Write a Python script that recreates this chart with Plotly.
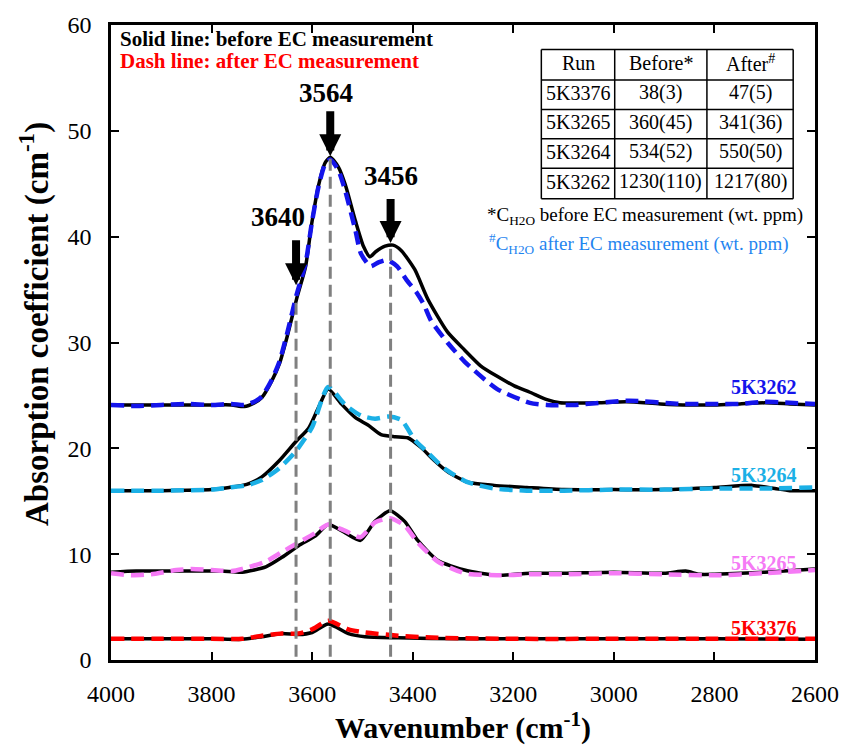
import plotly.graph_objects as go

# ---------------- data ----------------
wn_3262_before = [4000, 3900, 3800, 3760, 3735, 3715, 3700, 3680, 3665, 3650, 3631, 3613, 3601, 3587, 3574, 3564,
                  3548, 3534, 3514, 3498, 3485, 3473, 3455, 3439, 3423, 3396, 3370, 3331, 3297, 3265, 3232, 3198,
                  3167, 3133, 3107, 3040, 2975, 2908, 2850, 2800, 2750, 2700, 2650, 2600]
abs_3262_before = [24.1, 24.1, 24.1, 24.1, 23.95, 24.3, 24.8, 26.4, 28.0, 30.5, 34.1, 37.2, 41.2, 44.9, 47.0, 47.5,
                   46.6, 44.9, 41.5, 39.1, 38.1, 38.6, 39.1, 39.2, 38.7, 36.9, 34.1, 31.0, 29.3, 27.8, 26.8, 25.9,
                   25.3, 24.6, 24.3, 24.3, 24.4, 24.2, 24.1, 24.1, 24.2, 24.3, 24.2, 24.1]

wn_3262_after = [4000, 3950, 3900, 3850, 3800, 3760, 3735, 3715, 3700, 3680, 3665, 3650, 3631, 3613, 3601, 3587, 3574,
                 3564, 3548, 3534, 3514, 3503, 3484, 3467, 3451, 3431, 3412, 3392, 3378, 3364, 3331, 3297, 3232, 3167,
                 3133, 3080, 2970, 2871, 2804, 2750, 2700, 2650, 2600]
abs_3262_after = [24.1, 24.0, 24.1, 24.2, 24.1, 24.2, 24.1, 24.4, 24.9, 26.5, 28.2, 30.8, 34.5, 37.5, 41.2, 44.8, 46.9,
                  47.3, 46.3, 44.3, 40.6, 38.4, 37.2, 37.6, 37.8, 37.2, 35.9, 34.7, 33.6, 32.1, 30.0, 28.2, 25.6, 24.3,
                  24.1, 24.1, 24.5, 24.2, 24.2, 24.2, 24.4, 24.3, 24.2]

wn_3264_before = [4000, 3900, 3800, 3765, 3730, 3700, 3666, 3633, 3607, 3587, 3568, 3542, 3514, 3489, 3463, 3435, 3410,
                  3384, 3356, 3331, 3291, 3238, 3173, 3100, 3000, 2900, 2800, 2724, 2680, 2650, 2600]
abs_3264_before = [16.0, 16.0, 16.1, 16.3, 16.6, 17.3, 18.8, 20.6, 21.9, 23.9, 25.6, 24.2, 22.9, 22.2, 21.3, 21.1, 21.0,
                   20.1, 18.8, 17.8, 16.8, 16.5, 16.3, 16.1, 16.1, 16.1, 16.3, 16.5, 16.2, 16.0, 16.0]

wn_3264_after = [4000, 3900, 3800, 3765, 3730, 3700, 3666, 3633, 3600, 3568, 3534, 3503, 3475, 3449, 3423, 3396, 3370,
                 3337, 3291, 3238, 3173, 3100, 3000, 2900, 2800, 2700, 2600]
abs_3264_after = [16.0, 16.0, 16.1, 16.3, 16.5, 17.0, 18.1, 19.7, 22.0, 25.8, 24.1, 23.1, 22.8, 23.0, 22.7, 20.8, 19.6,
                  18.1, 16.8, 16.2, 16.0, 16.0, 16.1, 16.1, 16.2, 16.2, 16.3]

wn_3265_before = [4000, 3950, 3900, 3850, 3824, 3780, 3739, 3692, 3660, 3627, 3594, 3568, 3534, 3504, 3475, 3445, 3416,
                  3390, 3350, 3297, 3232, 3167, 3100, 3000, 2900, 2857, 2830, 2800, 2700, 2600]
abs_3265_before = [8.3, 8.4, 8.4, 8.4, 8.4, 8.4, 8.3, 8.8, 9.7, 10.8, 11.7, 12.8, 12.0, 11.3, 13.1, 14.1, 13.1,
                   11.3, 9.4, 8.5, 8.0, 8.2, 8.2, 8.3, 8.2, 8.4, 8.1, 8.1, 8.3, 8.6]

wn_3265_after = [4000, 3960, 3920, 3870, 3840, 3800, 3760, 3739, 3692, 3660, 3627, 3594, 3568, 3534, 3504, 3475, 3445,
                 3416, 3390, 3350, 3297, 3232, 3167, 3100, 3000, 2900, 2800, 2700, 2600]
abs_3265_after = [8.2, 8.0, 8.1, 8.5, 8.6, 8.5, 8.4, 8.6, 9.3, 10.2, 11.1, 12.0, 12.8, 12.2, 11.6, 13.0, 13.4,
                  12.7, 11.1, 9.3, 8.2, 8.0, 8.1, 8.1, 8.2, 8.1, 8.0, 8.2, 8.5]

wn_3376_before = [4000, 3900, 3800, 3739, 3700, 3660, 3627, 3600, 3568, 3528, 3495, 3429, 3300, 3200, 3000, 2800, 2600]
abs_3376_before = [2.0, 2.0, 2.0, 1.95, 2.2, 2.5, 2.4, 2.6, 3.4, 2.5, 2.2, 2.1, 2.0, 2.0, 2.0, 2.0, 1.95]

wn_3376_after = [4000, 3900, 3800, 3739, 3700, 3660, 3627, 3600, 3568, 3528, 3495, 3429, 3350, 3200, 3000, 2800, 2600]
abs_3376_after = [2.0, 2.0, 2.0, 2.0, 2.3, 2.5, 2.5, 2.9, 3.7, 2.9, 2.6, 2.3, 2.1, 2.0, 2.0, 2.0, 2.0]

# peak markers
peak_labels = ["3640", "3564", "3456"]
peak_line_wn = [3632, 3564, 3444]
peak_line_top = [34.2, 47.4, 39.3]
arrow_tip = [35.4, 47.6, 39.4]
arrow_tail = [39.8, 52.0, 43.7]
label_wn = [3668, 3572, 3444]
label_y = [41.9, 53.6, 45.7]

# table
table_header = ["Run", "Before*", "After<sup>#</sup>"]
table_runs = ["5K3376", "5K3265", "5K3264", "5K3262"]
table_before = ["38(3)", "360(45)", "534(52)", "1230(110)"]
table_after = ["47(5)", "341(36)", "550(50)", "1217(80)"]

series_names = ["5K3262", "5K3264", "5K3265", "5K3376"]
series_colors = ["#1414EB", "#1BB0E6", "#F57AF5", "#FF0000"]
series_label_y = [25.8, 17.5, 9.2, 3.0]

FONT = "Liberation Serif"

# plot-area pixel geometry helpers (layout only)
L, R, T, B = 111, 30, 17, 84
W, H = 851, 748
PW, PH = W - L - R, H - T - B


def px_x(px):
    return (px - L) / PW


def px_y(py):
    return (H - B - py) / PH


fig = go.Figure()

before_sets = [(wn_3262_before, abs_3262_before), (wn_3264_before, abs_3264_before),
               (wn_3265_before, abs_3265_before), (wn_3376_before, abs_3376_before)]
after_sets = [(wn_3262_after, abs_3262_after), (wn_3264_after, abs_3264_after),
              (wn_3265_after, abs_3265_after), (wn_3376_after, abs_3376_after)]

for name, (x, y) in zip(series_names, before_sets):
    fig.add_trace(go.Scatter(x=x, y=y, mode="lines", name=name + " before",
                             line=dict(color="black", width=3.5, shape="spline", smoothing=0.6)))
for name, color, (x, y) in zip(series_names, series_colors, after_sets):
    fig.add_trace(go.Scatter(x=x, y=y, mode="lines", name=name + " after",
                             line=dict(color=color, width=4.5, dash="13px,7px", shape="spline", smoothing=0.6)))

for wn, top in zip(peak_line_wn, peak_line_top):
    fig.add_trace(go.Scatter(x=[wn, wn], y=[0.3, top], mode="lines", showlegend=False,
                             line=dict(color="#808080", width=3, dash="12px,6px")))

annotations = []
for wn, tip, tail in zip(peak_line_wn, arrow_tip, arrow_tail):
    annotations.append(dict(x=wn, y=tip, ax=wn, ay=tail, xref="x", yref="y", axref="x", ayref="y",
                            text="", showarrow=True, arrowhead=2, arrowsize=0.55, arrowwidth=8,
                            arrowcolor="black", standoff=0))
for lab, wn, yy in zip(peak_labels, label_wn, label_y):
    annotations.append(dict(x=wn, y=yy, xref="x", yref="y", text="<b>" + lab + "</b>", showarrow=False,
                            font=dict(family=FONT, size=27, color="black")))
for name, color, yy in zip(series_names, series_colors, series_label_y):
    annotations.append(dict(x=2632, y=yy, xref="x", yref="y", text="<b>" + name + "</b>", showarrow=False,
                            xanchor="right", font=dict(family=FONT, size=20, color=color)))

annotations.append(dict(x=px_x(118), y=px_y(31), xref="paper", yref="paper", xanchor="left", yanchor="middle",
                        text="<b>Solid line: before EC measurement</b>", showarrow=False,
                        font=dict(family=FONT, size=21, color="black")))
annotations.append(dict(x=px_x(118), y=px_y(54), xref="paper", yref="paper", xanchor="left", yanchor="middle",
                        text="<b>Dash line: after EC measurement</b>", showarrow=False,
                        font=dict(family=FONT, size=21, color="#FF0000")))
annotations.append(dict(x=px_x(488), y=px_y(212), xref="paper", yref="paper", xanchor="left", yanchor="middle",
                        text="*C<sub>H2O</sub> before EC measurement (wt. ppm)", showarrow=False,
                        font=dict(family=FONT, size=19, color="black")))
annotations.append(dict(x=px_x(490), y=px_y(240), xref="paper", yref="paper", xanchor="left", yanchor="middle",
                        text="<sup>#</sup>C<sub>H2O</sub> after EC measurement (wt. ppm)", showarrow=False,
                        font=dict(family=FONT, size=19, color="#1F85F0")))

# y-axis title (placed as rotated text to match the reference position)
annotations.append(dict(x=px_x(34), y=px_y(322), xref="paper", yref="paper", xanchor="center", yanchor="middle",
                        textangle=-90, text="<b>Absorption coefficient (cm<sup>-1</sup>)</b>", showarrow=False,
                        font=dict(family=FONT, size=33, color="black")))

# table drawn as grid shapes + text annotations
col_edges_px = [545, 619, 712, 799]
row_edges_px = [42, 73, 103, 133, 163, 194]
shapes = []
for cx in col_edges_px:
    shapes.append(dict(type="line", xref="paper", yref="paper", x0=px_x(cx), x1=px_x(cx),
                       y0=px_y(row_edges_px[0]), y1=px_y(row_edges_px[-1]),
                       line=dict(color="black", width=1.5)))
for ry in row_edges_px:
    shapes.append(dict(type="line", xref="paper", yref="paper", x0=px_x(col_edges_px[0]), x1=px_x(col_edges_px[-1]),
                       y0=px_y(ry), y1=px_y(ry), line=dict(color="black", width=1.5)))

table_columns = [[table_header[0]] + table_runs, [table_header[1]] + table_before, [table_header[2]] + table_after]
for ci, col in enumerate(table_columns):
    cxc = (col_edges_px[ci] + col_edges_px[ci + 1]) / 2
    for ri, txt in enumerate(col):
        cyc = (row_edges_px[ri] + row_edges_px[ri + 1]) / 2 - 2
        annotations.append(dict(x=px_x(cxc), y=px_y(cyc), xref="paper", yref="paper",
                                xanchor="center", yanchor="middle", text=txt, showarrow=False,
                                font=dict(family=FONT, size=20, color="black")))

axis_common = dict(showline=True, linecolor="black", linewidth=2.5, mirror="ticks", ticks="inside",
                   ticklen=8, tickwidth=2, tickcolor="black", showgrid=False, zeroline=False,
                   tickfont=dict(family=FONT, size=24, color="black"))

fig.update_layout(
    width=W, height=H,
    margin=dict(l=L, r=R, t=T, b=B),
    paper_bgcolor="white", plot_bgcolor="white",
    showlegend=False,
    annotations=annotations,
    shapes=shapes,
    xaxis=dict(range=[4000, 2600], dtick=200, tick0=2600, ticklabelstandoff=10,
               title=dict(text="<b>Wavenumber (cm<sup>-1</sup>)</b>", standoff=8,
                          font=dict(family=FONT, size=30, color="black")),
               **axis_common),
    yaxis=dict(range=[0, 60], dtick=10, ticklabelstandoff=12, **axis_common),
)

fig.write_html("out.html")
